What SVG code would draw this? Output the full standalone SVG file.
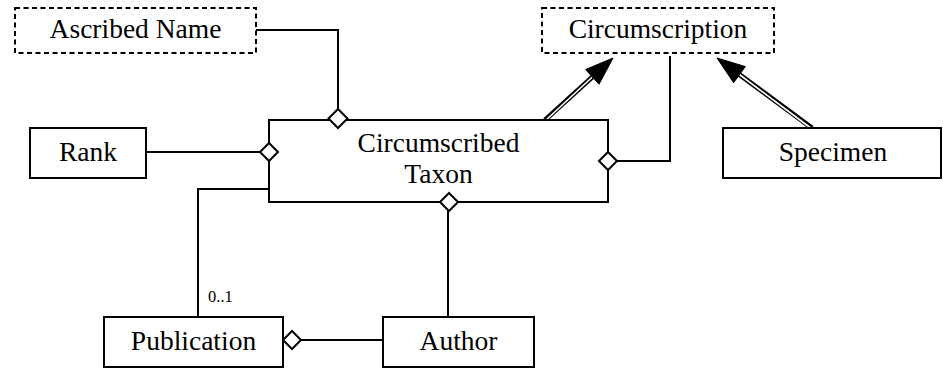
<svg xmlns="http://www.w3.org/2000/svg" width="943" height="369" viewBox="0 0 943 369">
<style>
.box{fill:#fff;stroke:#000;stroke-width:2}
.dash{fill:#fff;stroke:#000;stroke-width:2;stroke-dasharray:5 3.5}
.lbl{font-family:"Liberation Serif","Times New Roman",serif;font-size:27.5px;fill:#000;text-anchor:middle}
.small{font-family:"Liberation Serif","Times New Roman",serif;font-size:16.5px;fill:#000}
.ln{fill:none;stroke:#000;stroke-width:2}
.dia{fill:#fff;stroke:#000;stroke-width:2}
.dbl{fill:none;stroke:#000;stroke-width:5}
.dblw{fill:none;stroke:#fff;stroke-width:1.6}
.head{fill:#000;stroke:#000;stroke-width:1}
</style>
<rect width="943" height="369" fill="#fff"/>
<g id="connectors">
  <polyline class="ln" points="256,30 338,30 338,109"/>
  <line class="ln" x1="146" y1="152" x2="260" y2="152"/>
  <polyline class="ln" points="269,189 198,189 198,317"/>
  <line class="ln" x1="448" y1="211" x2="448" y2="317"/>
  <line class="ln" x1="301" y1="340" x2="386" y2="340"/>
  <polyline class="ln" points="617,161 670,161 670,56"/>
  <line class="dbl" x1="545" y1="120" x2="594" y2="75.5"/>
  <line class="dblw" x1="545" y1="121" x2="594" y2="75.5"/>
  <polygon class="head" points="613,58 599,84.3 585.6,69.5"/>
  <line class="dbl" x1="812" y1="128" x2="738" y2="73.5"/>
  <line class="dblw" x1="812" y1="129" x2="738" y2="73.5"/>
  <polygon class="head" points="717,58 745.4,66.6 733.6,82.7"/>
  <text class="small" x="208" y="302">0..1</text>
</g>
<g id="ascribed-name">
  <rect class="dash" x="15" y="8" width="241" height="45"/>
  <text class="lbl" x="135.5" y="38">Ascribed Name</text>
</g>
<g id="circumscription">
  <rect class="dash" x="542" y="8" width="232" height="45"/>
  <text class="lbl" x="658" y="38">Circumscription</text>
</g>
<g id="rank">
  <rect class="box" x="30" y="128" width="116" height="50"/>
  <text class="lbl" x="88" y="161">Rank</text>
</g>
<g id="circumscribed-taxon">
  <rect class="box" x="269" y="120" width="339" height="82"/>
  <text class="lbl" x="438.5" y="152">Circumscribed</text>
  <text class="lbl" x="438.5" y="183">Taxon</text>
  <polygon class="dia" points="338,109 347.5,118.5 338,128 328.5,118.5"/>
  <polygon class="dia" points="269,143 278,152 269,161 260,152"/>
  <polygon class="dia" points="449,193 458,202 449,211 440,202"/>
  <polygon class="dia" points="608,152 617,161 608,170 599,161"/>
</g>
<g id="specimen">
  <rect class="box" x="723" y="128" width="218" height="50"/>
  <text class="lbl" x="833" y="161">Specimen</text>
</g>
<g id="publication">
  <rect class="box" x="104" y="317" width="179" height="50"/>
  <text class="lbl" x="193.5" y="350">Publication</text>
  <polygon class="dia" points="292,331 301,340 292,349 283,340"/>
</g>
<g id="author">
  <rect class="box" x="383" y="317" width="151" height="50"/>
  <text class="lbl" x="458.5" y="350">Author</text>
</g>
</svg>
